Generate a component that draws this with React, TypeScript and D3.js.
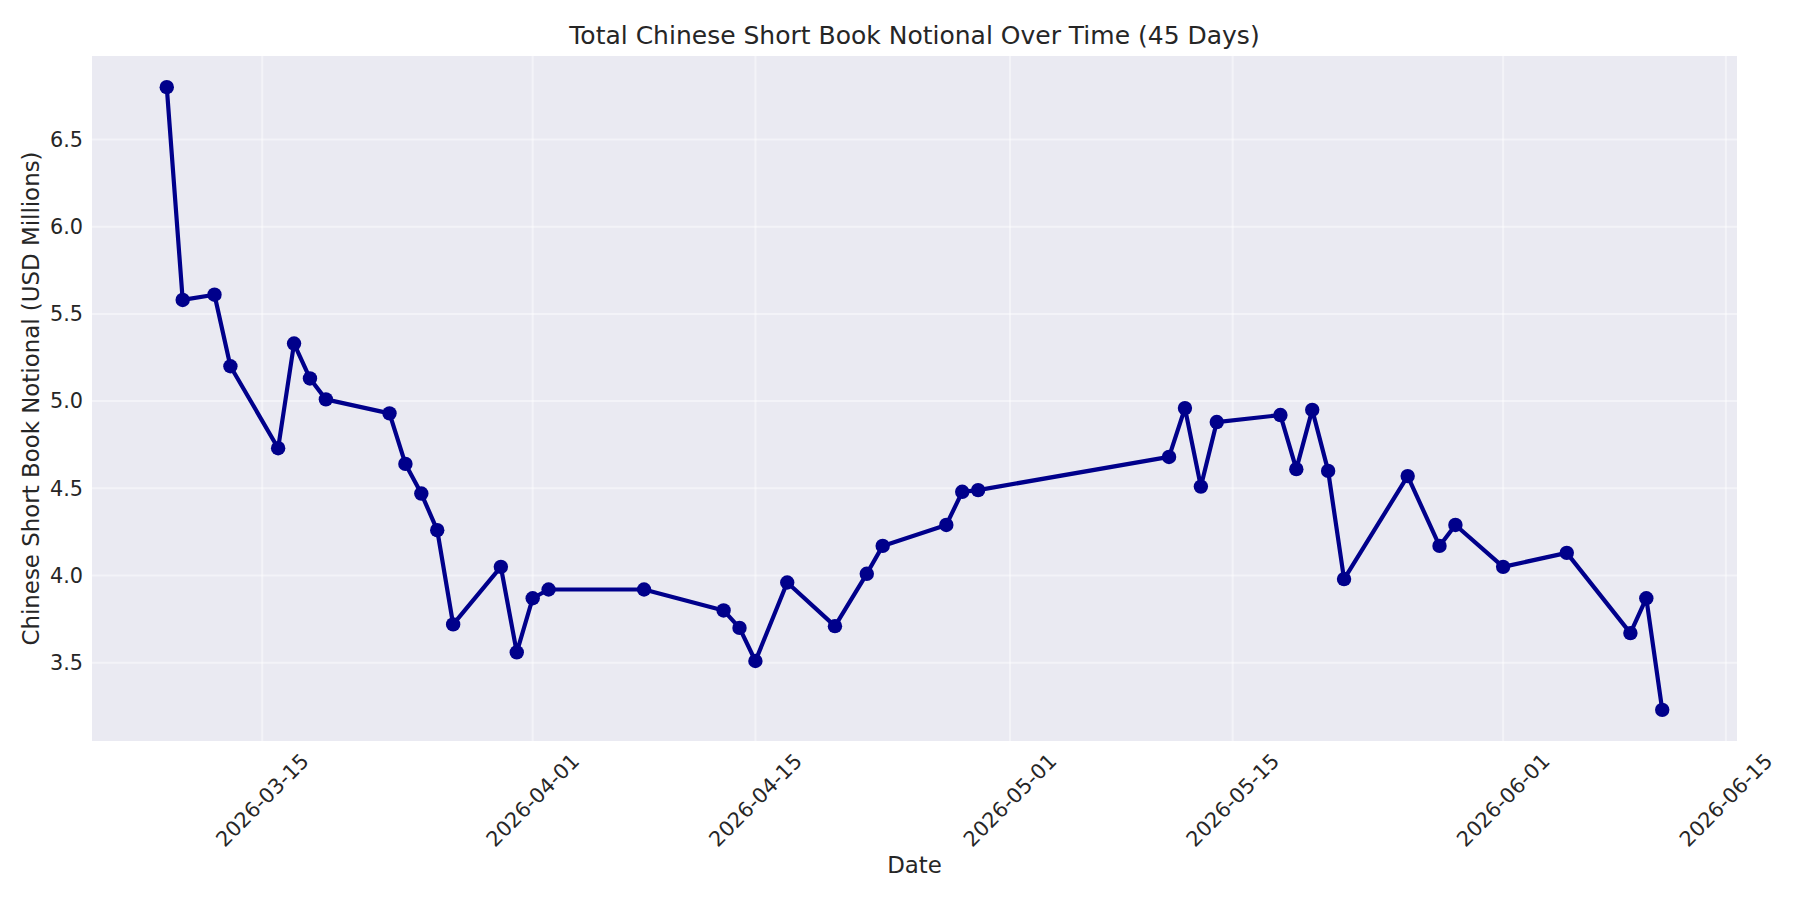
import * as React from 'react';
import * as d3 from 'd3';

// TRADING DAYS AND TOTAL SHORT BOOK NOTIONAL (USD MILLIONS)
const DATES: string[] = [
    '2026-03-09', '2026-03-10', '2026-03-12', '2026-03-13', '2026-03-16',
    '2026-03-17', '2026-03-18', '2026-03-19', '2026-03-23', '2026-03-24',
    '2026-03-25', '2026-03-26', '2026-03-27', '2026-03-30', '2026-03-31',
    '2026-04-01', '2026-04-02', '2026-04-08', '2026-04-13', '2026-04-14',
    '2026-04-15', '2026-04-17', '2026-04-20', '2026-04-22', '2026-04-23',
    '2026-04-27', '2026-04-28', '2026-04-29', '2026-05-11', '2026-05-12',
    '2026-05-13', '2026-05-14', '2026-05-18', '2026-05-19', '2026-05-20',
    '2026-05-21', '2026-05-22', '2026-05-26', '2026-05-28', '2026-05-29',
    '2026-06-01', '2026-06-05', '2026-06-09', '2026-06-10', '2026-06-11'
];

const NOTIONAL: number[] = [
    6.80, 5.58, 5.61, 5.20, 4.73,
    5.33, 5.13, 5.01, 4.93, 4.64,
    4.47, 4.26, 3.72, 4.05, 3.56,
    3.87, 3.92, 3.92, 3.80, 3.70,
    3.51, 3.96, 3.71, 4.01, 4.17,
    4.29, 4.48, 4.49, 4.68, 4.96,
    4.51, 4.88, 4.92, 4.61, 4.95,
    4.60, 3.98, 4.57, 4.17, 4.29,
    4.05, 4.13, 3.67, 3.87, 3.23
];

const X_TICKS: string[] = [
    '2026-03-15', '2026-04-01', '2026-04-15', '2026-05-01',
    '2026-05-15', '2026-06-01', '2026-06-15'
];

const Y_TICKS: number[] = [3.5, 4.0, 4.5, 5.0, 5.5, 6.0, 6.5];

const TITLE = 'Total Chinese Short Book Notional Over Time (45 Days)';
const X_LABEL = 'Date';
const Y_LABEL = 'Chinese Short Book Notional (USD Millions)';

const WIDTH = 1800;
const HEIGHT = 900;
const MARGINS = { top: 56, left: 92, bottom: 159, right: 63 };
const FONT = '"DejaVu Sans", sans-serif';
const TEXT_COLOR = '#262626';
const LINE_COLOR = '#00008b';

export default class App extends React.Component {
    el: HTMLDivElement | null = null;

    componentDidMount() {
        if (this.el) this._renderChart(this.el);
    }

    /**
     * pads a domain by 5% on each side, like the default axes margins
     */
    _pad = (lo: number, hi: number) => {
        const m = (hi - lo) * 0.05;
        return [lo - m, hi + m];
    }

    _renderChart = (el: HTMLDivElement) => {
        const parse = d3.utcParse('%Y-%m-%d');
        const data = DATES.map((d, i) => ({ date: parse(d) as Date, value: NOTIONAL[i] }));

        const w = WIDTH - MARGINS.left - MARGINS.right;
        const h = HEIGHT - MARGINS.top - MARGINS.bottom;

        const [t0, t1] = d3.extent(data, d => +d.date) as [number, number];
        const [v0, v1] = d3.extent(data, d => d.value) as [number, number];

        const xScale = d3.scaleUtc()
            .domain(this._pad(t0, t1).map(t => new Date(t)))
            .range([0, w]);
        const yScale = d3.scaleLinear()
            .domain(this._pad(v0, v1))
            .range([h, 0]);

        d3.select(el).selectAll('*').remove();

        // CREATE SVG ELEMENT
        const svg = d3.select(el)
            .append('svg')
            .attr('width', WIDTH)
            .attr('height', HEIGHT)
            .style('position', 'absolute')
            .style('left', 0)
            .style('top', 0)
            .style('background', '#ffffff')
            .style('font-family', FONT);

        const canvas = svg.append('g')
            .attr('transform', 'translate(' + [MARGINS.left, MARGINS.top] + ')');

        // AXES BACKGROUND
        canvas.append('rect')
            .attr('width', w)
            .attr('height', h)
            .attr('fill', '#eaeaf2');

        // GRID LINES
        const xTickDates = X_TICKS.map(d => parse(d) as Date);

        canvas.append('g')
            .selectAll('line')
            .data(xTickDates)
            .join('line')
            .attr('x1', d => xScale(d))
            .attr('x2', d => xScale(d))
            .attr('y1', 0)
            .attr('y2', h)
            .attr('stroke', '#ffffff')
            .attr('stroke-opacity', 0.45)
            .attr('stroke-width', 2);

        canvas.append('g')
            .selectAll('line')
            .data(Y_TICKS)
            .join('line')
            .attr('x1', 0)
            .attr('x2', w)
            .attr('y1', d => yScale(d))
            .attr('y2', d => yScale(d))
            .attr('stroke', '#ffffff')
            .attr('stroke-opacity', 0.45)
            .attr('stroke-width', 2);

        // Y TICK LABELS
        canvas.append('g')
            .selectAll('text')
            .data(Y_TICKS)
            .join('text')
            .attr('x', -9)
            .attr('y', d => yScale(d))
            .attr('dy', '0.35em')
            .attr('text-anchor', 'end')
            .attr('font-size', 20.8)
            .attr('fill', TEXT_COLOR)
            .text(d => d3.format('.1f')(d));

        // X TICK LABELS, ROTATED 45 DEGREES ABOUT THEIR CENTRE
        canvas.append('g')
            .selectAll('text')
            .data(xTickDates)
            .join('text')
            .attr('transform', d => 'translate(' + [xScale(d), h + 59] + ') rotate(-45)')
            .attr('dy', '0.35em')
            .attr('text-anchor', 'middle')
            .attr('font-size', 20.8)
            .attr('fill', TEXT_COLOR)
            .text(d => d3.utcFormat('%Y-%m-%d')(d));

        // LINE AND MARKERS
        const line = d3.line<{ date: Date; value: number }>()
            .x(d => xScale(d.date))
            .y(d => yScale(d.value));

        canvas.append('path')
            .datum(data)
            .attr('d', line)
            .attr('fill', 'none')
            .attr('stroke', LINE_COLOR)
            .attr('stroke-width', 4.2)
            .attr('stroke-linejoin', 'round')
            .attr('stroke-linecap', 'round');

        canvas.append('g')
            .selectAll('circle')
            .data(data)
            .join('circle')
            .attr('cx', d => xScale(d.date))
            .attr('cy', d => yScale(d.value))
            .attr('r', 7.2)
            .attr('fill', LINE_COLOR);

        // TITLE AND AXIS LABELS
        svg.append('text')
            .attr('x', MARGINS.left + w / 2)
            .attr('y', 43.5)
            .attr('text-anchor', 'middle')
            .attr('font-size', 25)
            .attr('fill', TEXT_COLOR)
            .text(TITLE);

        svg.append('text')
            .attr('x', MARGINS.left + w / 2)
            .attr('y', 873)
            .attr('text-anchor', 'middle')
            .attr('font-size', 22.9)
            .attr('fill', TEXT_COLOR)
            .text(X_LABEL);

        svg.append('text')
            .attr('transform', 'translate(' + [38.5, MARGINS.top + h / 2] + ') rotate(-90)')
            .attr('text-anchor', 'middle')
            .attr('font-size', 22.9)
            .attr('fill', TEXT_COLOR)
            .text(Y_LABEL);
    }

    render() {
        return <div ref={el => { this.el = el; }} />;
    }
}
